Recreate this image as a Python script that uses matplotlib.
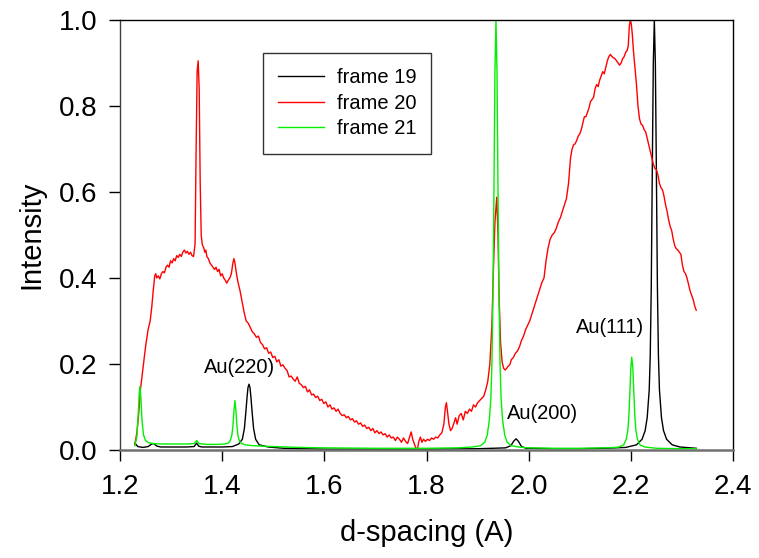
import matplotlib
matplotlib.use("Agg")
import matplotlib.pyplot as plt
import numpy as np

plt.rcParams['font.family'] = ['Liberation Sans', 'DejaVu Sans']

# ---------------- data (d-spacing, intensity) ----------------
frame19 = [
    (1.229, 0.016), (1.235, 0.008), (1.245, 0.006), (1.255, 0.008), (1.262, 0.014),
    (1.266, 0.015), (1.272, 0.009), (1.28, 0.007), (1.30, 0.007), (1.33, 0.007),
    (1.345, 0.008), (1.350, 0.016), (1.354, 0.009), (1.36, 0.007), (1.40, 0.007),
    (1.42, 0.008), (1.4325, 0.014), (1.4395, 0.025), (1.4435, 0.05), (1.4465, 0.09),
    (1.4485, 0.12), (1.4505, 0.145), (1.4525, 0.153), (1.4545, 0.145), (1.4565, 0.12),
    (1.4585, 0.09), (1.4615, 0.05), (1.4655, 0.025), (1.4725, 0.012), (1.49, 0.007),
    (1.52, 0.004), (1.56, 0.003), (1.60, 0.002), (1.70, 0.002), (1.80, 0.002),
    (1.90, 0.003), (1.93, 0.004), (1.955, 0.005), (1.965, 0.01), (1.971, 0.021),
    (1.9755, 0.026), (1.980, 0.02), (1.986, 0.008), (1.995, 0.004), (2.05, 0.003),
    (2.10, 0.003), (2.15, 0.004), (2.19, 0.006), (2.211, 0.012), (2.222, 0.025),
    (2.228, 0.045), (2.232, 0.075), (2.236, 0.14), (2.238, 0.22), (2.240, 0.38),
    (2.242, 0.65), (2.244, 0.9), (2.246, 1.0), (2.248, 0.9), (2.250, 0.65),
    (2.252, 0.38), (2.254, 0.22), (2.256, 0.14), (2.260, 0.075), (2.264, 0.045),
    (2.270, 0.025), (2.281, 0.012), (2.296, 0.007), (2.328, 0.004),
]

frame20 = [
    (1.229, 0.012), (1.233, 0.04), (1.237, 0.09), (1.240, 0.14), (1.245, 0.19),
    (1.250, 0.24), (1.255, 0.28), (1.259, 0.30), (1.262, 0.33), (1.265, 0.37),
    (1.268, 0.405), (1.270, 0.41), (1.272, 0.40), (1.275, 0.405), (1.278, 0.398),
    (1.281, 0.41), (1.284, 0.415), (1.287, 0.412), (1.290, 0.425), (1.293, 0.43),
    (1.296, 0.425), (1.299, 0.44), (1.302, 0.435), (1.305, 0.445), (1.308, 0.44),
    (1.311, 0.452), (1.314, 0.448), (1.317, 0.455), (1.320, 0.45), (1.323, 0.46),
    (1.326, 0.465), (1.329, 0.458), (1.332, 0.462), (1.335, 0.455), (1.338, 0.46),
    (1.341, 0.452), (1.344, 0.45), (1.347, 0.48), (1.349, 0.70), (1.351, 0.88),
    (1.353, 0.905), (1.355, 0.84), (1.357, 0.62), (1.359, 0.50), (1.361, 0.478),
    (1.364, 0.47), (1.366, 0.46), (1.368, 0.465), (1.370, 0.45), (1.373, 0.445),
    (1.376, 0.435), (1.379, 0.43), (1.382, 0.425), (1.385, 0.42), (1.388, 0.425),
    (1.391, 0.415), (1.394, 0.42), (1.397, 0.405), (1.400, 0.41), (1.403, 0.40),
    (1.406, 0.395), (1.409, 0.388), (1.412, 0.395), (1.415, 0.40), (1.418, 0.41),
    (1.421, 0.435), (1.423, 0.445), (1.425, 0.435), (1.428, 0.41), (1.431, 0.39),
    (1.435, 0.37), (1.439, 0.345), (1.443, 0.32), (1.447, 0.30), (1.451, 0.295),
    (1.455, 0.285), (1.459, 0.275), (1.463, 0.27), (1.467, 0.262), (1.471, 0.265),
    (1.475, 0.25), (1.479, 0.245), (1.483, 0.235), (1.487, 0.238), (1.491, 0.225),
    (1.495, 0.228), (1.499, 0.215), (1.503, 0.218), (1.507, 0.205), (1.511, 0.21),
    (1.515, 0.195), (1.519, 0.198), (1.523, 0.19), (1.527, 0.185), (1.531, 0.17),
    (1.535, 0.172), (1.539, 0.165), (1.543, 0.16), (1.547, 0.17), (1.551, 0.155),
    (1.555, 0.152), (1.559, 0.145), (1.563, 0.148), (1.567, 0.135), (1.571, 0.14),
    (1.575, 0.128), (1.579, 0.13), (1.583, 0.122), (1.587, 0.125), (1.591, 0.115),
    (1.595, 0.118), (1.599, 0.108), (1.603, 0.112), (1.607, 0.10), (1.611, 0.105),
    (1.615, 0.095), (1.619, 0.098), (1.623, 0.09), (1.627, 0.095), (1.631, 0.085),
    (1.635, 0.08), (1.639, 0.082), (1.643, 0.075), (1.647, 0.078), (1.651, 0.07),
    (1.655, 0.073), (1.659, 0.065), (1.663, 0.068), (1.667, 0.06), (1.671, 0.063),
    (1.675, 0.055), (1.679, 0.058), (1.683, 0.05), (1.687, 0.053), (1.691, 0.045),
    (1.695, 0.05), (1.699, 0.04), (1.703, 0.045), (1.707, 0.038), (1.711, 0.042),
    (1.715, 0.035), (1.719, 0.038), (1.723, 0.03), (1.727, 0.035), (1.731, 0.028),
    (1.735, 0.03), (1.739, 0.022), (1.743, 0.03), (1.747, 0.025), (1.751, 0.018),
    (1.755, 0.028), (1.759, 0.02), (1.763, 0.015), (1.767, 0.03), (1.770, 0.042),
    (1.773, 0.025), (1.776, 0.015), (1.779, 0.005), (1.782, 0.0), (1.785, 0.02),
    (1.788, 0.03), (1.791, 0.018), (1.794, 0.025), (1.798, 0.02), (1.802, 0.025),
    (1.806, 0.022), (1.810, 0.028), (1.814, 0.025), (1.818, 0.03), (1.822, 0.028),
    (1.826, 0.035), (1.830, 0.04), (1.834, 0.06), (1.837, 0.10), (1.839, 0.11),
    (1.841, 0.09), (1.844, 0.06), (1.847, 0.045), (1.850, 0.05), (1.853, 0.06),
    (1.857, 0.075), (1.860, 0.06), (1.864, 0.08), (1.868, 0.085), (1.872, 0.07),
    (1.876, 0.09), (1.880, 0.085), (1.884, 0.095), (1.888, 0.09), (1.892, 0.105),
    (1.896, 0.10), (1.900, 0.11), (1.904, 0.115), (1.908, 0.12), (1.912, 0.125),
    (1.916, 0.14), (1.920, 0.16), (1.924, 0.20), (1.928, 0.29), (1.931, 0.42),
    (1.934, 0.53), (1.9375, 0.588), (1.940, 0.50), (1.942, 0.36), (1.945, 0.25),
    (1.948, 0.205), (1.951, 0.19), (1.954, 0.186), (1.957, 0.19), (1.960, 0.195),
    (1.963, 0.198), (1.966, 0.21), (1.970, 0.215), (1.974, 0.225), (1.978, 0.23),
    (1.982, 0.24), (1.986, 0.255), (1.990, 0.265), (1.994, 0.28), (1.998, 0.29),
    (2.002, 0.30), (2.006, 0.315), (2.010, 0.33), (2.014, 0.345), (2.018, 0.36),
    (2.022, 0.375), (2.026, 0.39), (2.030, 0.40), (2.034, 0.44), (2.038, 0.47),
    (2.042, 0.49), (2.046, 0.50), (2.050, 0.505), (2.054, 0.515), (2.058, 0.53),
    (2.062, 0.54), (2.066, 0.555), (2.070, 0.57), (2.074, 0.585), (2.078, 0.62),
    (2.082, 0.68), (2.085, 0.70), (2.088, 0.71), (2.091, 0.712), (2.094, 0.72),
    (2.097, 0.73), (2.100, 0.735), (2.103, 0.745), (2.106, 0.76), (2.109, 0.775),
    (2.112, 0.775), (2.115, 0.785), (2.118, 0.795), (2.121, 0.81), (2.124, 0.815),
    (2.127, 0.82), (2.130, 0.84), (2.133, 0.85), (2.136, 0.845), (2.139, 0.86),
    (2.142, 0.87), (2.145, 0.88), (2.148, 0.875), (2.151, 0.89), (2.154, 0.905),
    (2.157, 0.915), (2.160, 0.92), (2.163, 0.915), (2.166, 0.912), (2.169, 0.91),
    (2.172, 0.905), (2.175, 0.90), (2.178, 0.895), (2.181, 0.90), (2.184, 0.91),
    (2.187, 0.915), (2.190, 0.925), (2.193, 0.93), (2.195, 0.94), (2.197, 0.985),
    (2.199, 1.0), (2.201, 0.99), (2.203, 0.965), (2.205, 0.93), (2.208, 0.89),
    (2.211, 0.85), (2.214, 0.80), (2.217, 0.77), (2.220, 0.758), (2.223, 0.755),
    (2.226, 0.745), (2.229, 0.74), (2.232, 0.725), (2.235, 0.71), (2.238, 0.695),
    (2.241, 0.68), (2.244, 0.665), (2.247, 0.655), (2.250, 0.652), (2.253, 0.64),
    (2.256, 0.62), (2.259, 0.61), (2.262, 0.605), (2.265, 0.59), (2.268, 0.57),
    (2.271, 0.555), (2.274, 0.535), (2.277, 0.52), (2.280, 0.51), (2.283, 0.49),
    (2.286, 0.475), (2.289, 0.468), (2.292, 0.465), (2.295, 0.46), (2.298, 0.455),
    (2.301, 0.43), (2.304, 0.415), (2.307, 0.41), (2.310, 0.40), (2.313, 0.385),
    (2.316, 0.37), (2.319, 0.36), (2.322, 0.35), (2.325, 0.335), (2.328, 0.325),
]

frame21 = [
    (1.229, 0.01), (1.233, 0.03), (1.236, 0.09), (1.2375, 0.13), (1.239, 0.148),
    (1.241, 0.12), (1.243, 0.07), (1.246, 0.035), (1.250, 0.022), (1.256, 0.017),
    (1.265, 0.015), (1.28, 0.014), (1.30, 0.014), (1.33, 0.014), (1.345, 0.015),
    (1.350, 0.022), (1.355, 0.015), (1.37, 0.013), (1.39, 0.013), (1.405, 0.014),
    (1.412, 0.016), (1.416, 0.022), (1.419, 0.035), (1.421, 0.055), (1.423, 0.09),
    (1.425, 0.115), (1.427, 0.09), (1.429, 0.055), (1.431, 0.033), (1.434, 0.02),
    (1.438, 0.015), (1.445, 0.012), (1.46, 0.01), (1.50, 0.008), (1.55, 0.006),
    (1.60, 0.005), (1.70, 0.004), (1.80, 0.004), (1.86, 0.005), (1.89, 0.007),
    (1.906, 0.01), (1.914, 0.018), (1.919, 0.035), (1.923, 0.07), (1.926, 0.12),
    (1.928, 0.20), (1.930, 0.35), (1.932, 0.60), (1.934, 0.88), (1.936, 1.0),
    (1.938, 0.88), (1.940, 0.60), (1.942, 0.35), (1.944, 0.20), (1.946, 0.12),
    (1.949, 0.07), (1.953, 0.035), (1.958, 0.018), (1.966, 0.01), (1.98, 0.007),
    (2.0, 0.005), (2.05, 0.004), (2.10, 0.004), (2.15, 0.005), (2.17, 0.006),
    (2.177, 0.007), (2.186, 0.012), (2.191, 0.025), (2.194, 0.045), (2.196, 0.075),
    (2.198, 0.13), (2.200, 0.19), (2.2017, 0.216), (2.204, 0.19), (2.206, 0.13),
    (2.208, 0.075), (2.210, 0.045), (2.213, 0.025), (2.218, 0.012), (2.227, 0.007),
    (2.25, 0.004), (2.30, 0.003), (2.328, 0.003),
]

series_names = ["frame 19", "frame 20", "frame 21"]
series_colors = ["#000000", "#ff0000", "#00f000"]

annotations = [("Au(220)", 1.433, 0.191), ("Au(200)", 2.028, 0.084), ("Au(111)", 2.159, 0.284)]

x_ticks = [1.2, 1.4, 1.6, 1.8, 2.0, 2.2, 2.4]
y_ticks = [0.0, 0.2, 0.4, 0.6, 0.8, 1.0]

# ---------------- figure ----------------
fig = plt.figure(figsize=(7.59, 5.58), dpi=100)
ax = fig.add_axes([120 / 759, (558 - 450) / 558, 613 / 759, 430 / 558])

for data, name, col in zip([frame19, frame20, frame21], series_names, series_colors):
    arr = np.array(data)
    ax.plot(arr[:, 0], arr[:, 1], color=col, lw=1.0, label=name)

ax.set_xlim(1.2, 2.4)
ax.set_ylim(0.0, 1.0)
ax.set_xticks(x_ticks)
ax.set_xticklabels([f"{t:.1f}" for t in x_ticks])
ax.set_yticks(y_ticks)
ax.set_yticklabels([f"{t:.1f}" for t in y_ticks])

ax.tick_params(axis='both', direction='out', length=8, width=1, labelsize=20, colors='black')
ax.tick_params(axis='x', pad=9)
ax.tick_params(axis='y', pad=8)

for s in ['top', 'right']:
    ax.spines[s].set_color('black')
    ax.spines[s].set_linewidth(1.0)
ax.spines['left'].set_color('#404040')
ax.spines['left'].set_linewidth(1.0)
ax.spines['bottom'].set_color('#707070')
ax.spines['bottom'].set_linewidth(1.8)

ax.set_xlabel("d-spacing (A)", fontsize=21, labelpad=14)
ax.set_ylabel("Intensity", fontsize=21, labelpad=10)

for text, x, y in annotations:
    ax.text(x, y, text, fontsize=14.5, ha='center', va='center')

leg = ax.legend(loc='upper left', bbox_to_anchor=((263 - 120) / 613, (450 - 53) / 430),
                borderaxespad=0, fontsize=14.5, frameon=True, fancybox=False,
                handlelength=2.3, handletextpad=0.6, labelspacing=0.33, borderpad=0.75)
leg.get_frame().set_edgecolor('black')
leg.get_frame().set_linewidth(1.0)

fig.savefig("out.png", dpi=100)
